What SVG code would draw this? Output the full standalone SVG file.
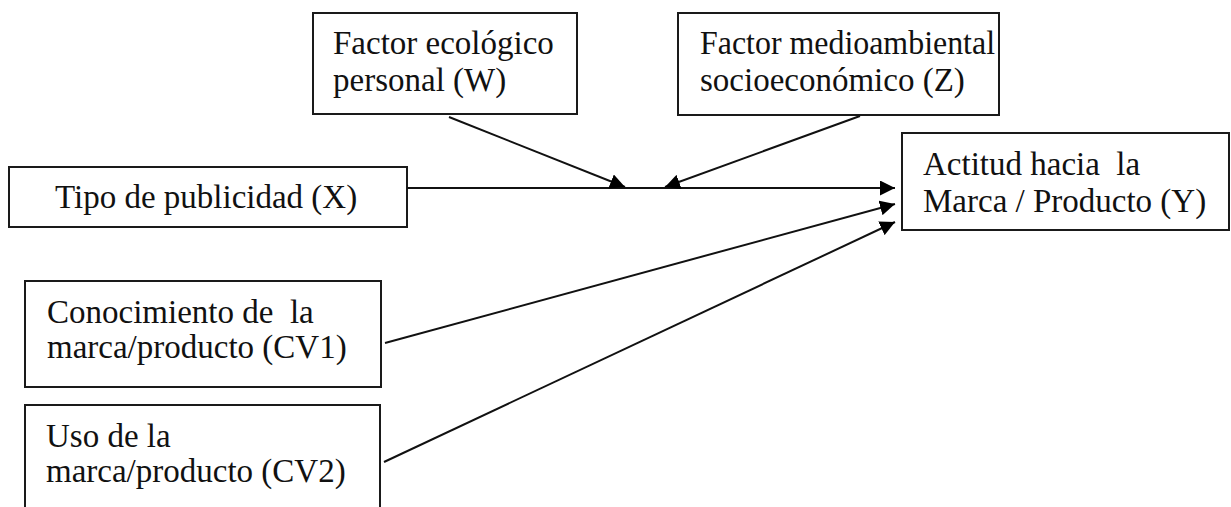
<svg xmlns="http://www.w3.org/2000/svg" width="1231" height="507" viewBox="0 0 1231 507">
  <style>
    .box { fill: #ffffff; stroke: #1a1a1a; stroke-width: 2; }
    .lbl { font-family: "Liberation Serif", "Times New Roman", serif; font-size: 33px; fill: #111111; }
    .conn { stroke: #111111; stroke-width: 2; fill: none; marker-end: url(#arr); }
  </style>
  <defs>
    <marker id="arr" markerUnits="userSpaceOnUse" markerWidth="15" markerHeight="15" refX="15" refY="7.5" orient="auto">
      <path d="M0,0 L15,7.5 L0,15 z" fill="#000000"/>
    </marker>
  </defs>
  <rect width="1231" height="507" fill="#ffffff"/>
  <g id="node-W">
    <rect class="box" x="313" y="13" width="264" height="101"/>
    <text class="lbl" x="333" y="54">Factor ecológico</text>
    <text class="lbl" x="333" y="91">personal (W)</text>
  </g>
  <g id="node-Z">
    <rect class="box" x="678" y="13" width="321" height="102"/>
    <text class="lbl" x="700" y="54" textLength="295" lengthAdjust="spacingAndGlyphs">Factor medioambiental</text>
    <text class="lbl" x="700" y="91">socioeconómico (Z)</text>
  </g>
  <g id="node-X">
    <rect class="box" x="9" y="167" width="398" height="60"/>
    <text class="lbl" x="55" y="208">Tipo de publicidad (X)</text>
  </g>
  <g id="node-Y">
    <rect class="box" x="902" y="133" width="327" height="97"/>
    <text class="lbl" x="923" y="175" xml:space="preserve">Actitud hacia  la</text>
    <text class="lbl" x="923" y="212">Marca / Producto (Y)</text>
  </g>
  <g id="node-CV1">
    <rect class="box" x="25" y="281" width="356" height="106"/>
    <text class="lbl" x="47" y="323" xml:space="preserve">Conocimiento de  la</text>
    <text class="lbl" x="47" y="358">marca/producto (CV1)</text>
  </g>
  <g id="node-CV2">
    <rect class="box" x="25" y="405" width="355" height="120"/>
    <text class="lbl" x="46" y="447">Uso de la</text>
    <text class="lbl" x="46" y="482">marca/producto (CV2)</text>
  </g>
  <g id="connectors">
    <line class="conn" x1="407" y1="188" x2="895" y2="188"/>
    <line class="conn" x1="449" y1="117" x2="625" y2="187"/>
    <line class="conn" x1="860" y1="116" x2="665" y2="187"/>
    <line class="conn" x1="385" y1="343" x2="895" y2="204"/>
    <line class="conn" x1="384" y1="462" x2="895" y2="222"/>
  </g>
</svg>
